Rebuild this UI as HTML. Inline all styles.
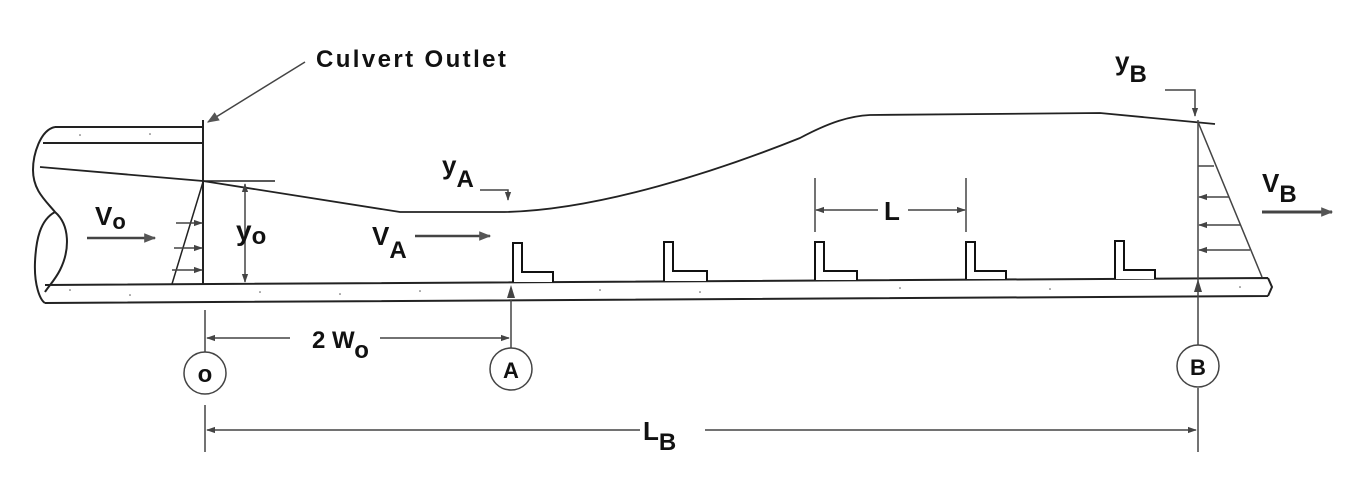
<!DOCTYPE html>
<html><head><style>html,body{margin:0;padding:0;background:#fff}svg{display:block}</style></head><body>
<svg width="1354" height="486" viewBox="0 0 1354 486" xmlns="http://www.w3.org/2000/svg" font-family="Liberation Sans, sans-serif" font-weight="bold">
<defs>
<marker id="ah" viewBox="0 0 10 10" refX="9" refY="5" markerWidth="9" markerHeight="9" orient="auto-start-reverse" markerUnits="userSpaceOnUse"><path d="M0,1.5 L10,5 L0,8.5 z" fill="#444"/></marker>
<marker id="ahb" viewBox="0 0 10 10" refX="9" refY="5" markerWidth="14" markerHeight="12" orient="auto-start-reverse" markerUnits="userSpaceOnUse"><path d="M0,1 L10,5 L0,9 z" fill="#555"/></marker>
</defs>
<g fill="none" stroke="#222" stroke-width="2">
<path d="M55,127 L203,127 M43,143 L203,143"/>
<path d="M55,127 C40,130 33,155 33,170 C33,190 45,200 55,212 C70,225 70,250 60,270 C55,280 48,287 45,292"/>
<path d="M55,212 C40,220 36,240 35,262 C34,285 40,300 45,303"/>
<line x1="203" y1="120" x2="203" y2="285"/>
<path d="M45,285 L1268,278 M45,303 L1268,296 M1268,278 L1272,287 L1268,296"/>
<path d="M40,167 L203,181 L400,212 L505,212 C600,210 720,170 800,138 C830,122 850,116 870,115 L1100,113 L1215,124" stroke-width="1.8"/>
<line x1="203" y1="181" x2="275" y2="181" stroke-width="1.5"/>
<line x1="203" y1="182" x2="172" y2="284" stroke-width="1.5"/>
</g>
<g fill="#555">
<circle cx="70" cy="290" r="0.8"/><circle cx="130" cy="295" r="0.8"/><circle cx="260" cy="292" r="0.8"/><circle cx="340" cy="294" r="0.8"/><circle cx="420" cy="291" r="0.8"/><circle cx="600" cy="290" r="0.8"/><circle cx="700" cy="292" r="0.8"/><circle cx="900" cy="288" r="0.8"/><circle cx="1050" cy="289" r="0.8"/><circle cx="1240" cy="287" r="0.8"/><circle cx="80" cy="135" r="0.8"/><circle cx="150" cy="134" r="0.8"/>
</g>
<g stroke="#444" stroke-width="1.5" fill="none">
<line x1="176" y1="223" x2="202" y2="223" marker-end="url(#ah)"/>
<line x1="174" y1="248" x2="202" y2="248" marker-end="url(#ah)"/>
<line x1="172" y1="270" x2="202" y2="270" marker-end="url(#ah)"/>
<line x1="245" y1="184" x2="245" y2="282" marker-start="url(#ah)" marker-end="url(#ah)"/>
<line x1="87" y1="238" x2="155" y2="238" stroke-width="2.5" marker-end="url(#ahb)"/>
<line x1="415" y1="236" x2="490" y2="236" stroke-width="2.5" marker-end="url(#ahb)"/>
<line x1="1262" y1="212" x2="1332" y2="212" stroke-width="3" marker-end="url(#ahb)"/>
<path d="M480,190 L508,190 L508,200" marker-end="url(#ah)"/>
<path d="M1165,90 L1195,90 L1195,116" marker-end="url(#ah)"/>
<line x1="305" y1="62" x2="208" y2="122" marker-end="url(#ahb)"/>
<line x1="815" y1="178" x2="815" y2="232"/><line x1="966" y1="178" x2="966" y2="232"/>
<line x1="816" y1="210" x2="878" y2="210" marker-start="url(#ah)"/>
<line x1="908" y1="210" x2="965" y2="210" marker-end="url(#ah)"/>
<line x1="1198" y1="120" x2="1198" y2="345"/>
<line x1="1198" y1="122" x2="1262" y2="277"/>
<line x1="1198" y1="166" x2="1214" y2="166"/>
<line x1="1229" y1="197" x2="1199" y2="197" marker-end="url(#ah)"/>
<line x1="1240" y1="225" x2="1199" y2="225" marker-end="url(#ah)"/>
<line x1="1250" y1="250" x2="1199" y2="250" marker-end="url(#ah)"/>
<line x1="205" y1="310" x2="205" y2="352"/>
<line x1="511" y1="300" x2="511" y2="348"/>
<line x1="205" y1="405" x2="205" y2="452"/>
<line x1="1198" y1="388" x2="1198" y2="452"/>
<line x1="207" y1="338" x2="290" y2="338" marker-start="url(#ah)"/>
<line x1="380" y1="338" x2="509" y2="338" marker-end="url(#ah)"/>
<line x1="207" y1="430" x2="640" y2="430" marker-start="url(#ah)"/>
<line x1="705" y1="430" x2="1196" y2="430" marker-end="url(#ah)"/>
<circle cx="205" cy="373" r="21"/><circle cx="511" cy="369" r="21"/><circle cx="1198" cy="366" r="21"/>
</g>
<path d="M507,298 L511,285 L515,298 z M1194,292 L1198,279 L1202,292z" fill="#444"/>
<g fill="#fff" stroke="#111" stroke-width="2">
<path d="M513,282 L513,243 L522,243 L522,272 L553,272 L553,282"/>
<path d="M664,281 L664,242 L673,242 L673,271 L707,271 L707,281"/>
<path d="M815,280 L815,242 L824,242 L824,271 L857,271 L857,280"/>
<path d="M966,279 L966,242 L975,242 L975,271 L1006,271 L1006,279"/>
<path d="M1115,279 L1115,241 L1124,241 L1124,270 L1155,270 L1155,279"/>
</g>
<g fill="#111">
<text x="316" y="67" font-size="24" letter-spacing="2.4">Culvert Outlet</text>
<text x="95" y="225" font-size="26">V<tspan font-size="22" dy="4">o</tspan></text>
<text x="236" y="240" font-size="28">y<tspan font-size="24" dy="4">o</tspan></text>
<text x="372" y="245" font-size="26">V<tspan font-size="24" dy="13">A</tspan></text>
<text x="442" y="174" font-size="26">y<tspan font-size="24" dy="13">A</tspan></text>
<text x="1115" y="70" font-size="26">y<tspan font-size="24" dy="12">B</tspan></text>
<text x="1262" y="192" font-size="26">V<tspan font-size="24" dy="10">B</tspan></text>
<text x="884" y="220" font-size="26">L</text>
<text x="312" y="348" font-size="24">2 W<tspan font-size="24" dy="10">o</tspan></text>
<text x="643" y="440" font-size="26">L<tspan font-size="24" dy="10">B</tspan></text>
<text x="205" y="382" font-size="24" text-anchor="middle">o</text>
<text x="511" y="378" font-size="22" text-anchor="middle">A</text>
<text x="1198" y="375" font-size="22" text-anchor="middle">B</text>
</g>
</svg>
</body></html>
